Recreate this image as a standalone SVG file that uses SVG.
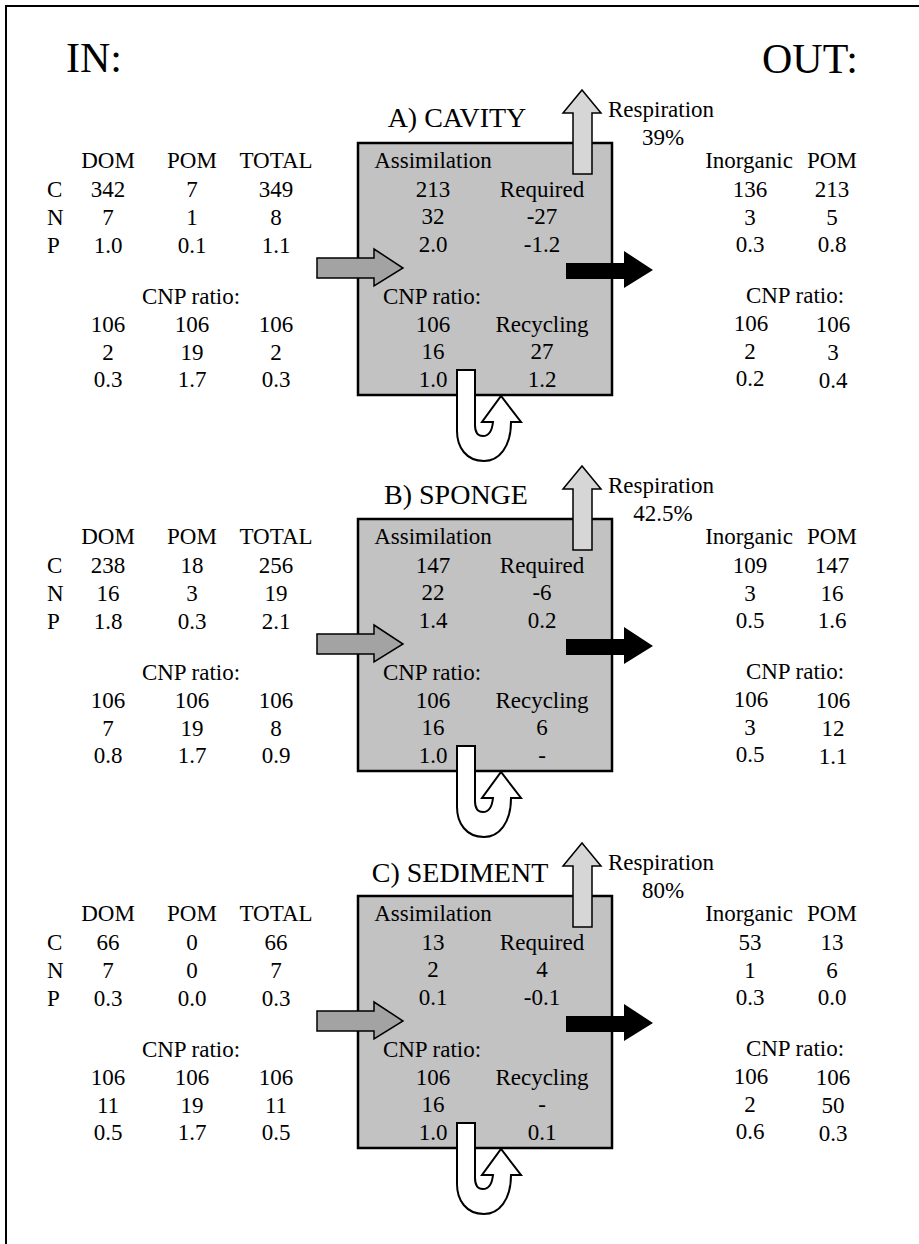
<svg xmlns="http://www.w3.org/2000/svg" width="919" height="1244" viewBox="0 0 919 1244">
<style>
text{font-family:"Liberation Serif","Times New Roman",serif;font-size:23px;fill:#000}
.m{text-anchor:middle}
.title{font-size:28px}
.big{font-size:42px}
.box{fill:#c2c2c2;stroke:#000;stroke-width:2.5}
.resp{fill:#d6d6d6;stroke:#000;stroke-width:1.5}
.inar{fill:#a3a3a3;stroke:#000;stroke-width:1.5}
.outar{fill:#000}
.rec{fill:#fff;stroke:#000;stroke-width:2}
.frame{fill:none;stroke:#000;stroke-width:2}
</style>
<defs>
<g id="boxshape"><rect class="box" x="358" y="143" width="254" height="252"/></g>
<path id="resparrow" class="resp" d="M573 174 V113 H563 L582 90 L601 113 H592 V174 Z"/>
<path id="inarrow" class="inar" d="M317 258 H374 V249 L403 268 L374 286 V278 H317 Z"/>
<path id="outarrow" class="outar" d="M566 263 H624 V251 L653 270 L624 288 V279 H566 Z"/>
<path id="recarrow" class="rec" d="M457 370 H475 V425 C475 433 478 436 483 436 C489 436 492 431 493 422 H482 L501 396 L521 422 H511 C511 447 499 461 484 461 C466 461 457 447 457 431 Z"/>
</defs>
<path class="frame" d="M6 1244 V6 H919"/>
<text class="big" x="66" y="72">IN:</text>
<text class="big" x="762" y="73">OUT:</text>

<!-- Section A -->
<g id="section-a">
<g id="box-a"><use href="#boxshape"/>
<text class="m" x="433" y="168">Assimilation</text>
<text class="m" x="433" y="197">213</text><text class="m" x="542" y="197">Required</text>
<text class="m" x="433" y="224">32</text><text class="m" x="542" y="224">-27</text>
<text class="m" x="433" y="252">2.0</text><text class="m" x="542" y="252">-1.2</text>
<text class="m" x="432" y="304">CNP ratio:</text>
<text class="m" x="433" y="332">106</text><text class="m" x="542" y="332">Recycling</text>
<text class="m" x="433" y="359">16</text><text class="m" x="542" y="359">27</text>
<text class="m" x="433" y="387">1.0</text><text class="m" x="542" y="387">1.2</text>
</g>
<g id="title-a"><text class="m title" x="457" y="127">A) CAVITY</text></g>
<g id="resp-a"><text x="608" y="117">Respiration</text><text class="m" x="663" y="145">39%</text></g>
<g id="in-a">
<text class="m" x="108" y="168">DOM</text><text class="m" x="192" y="168">POM</text><text class="m" x="276" y="168">TOTAL</text>
<text x="47" y="197">C</text><text class="m" x="108" y="197">342</text><text class="m" x="192" y="197">7</text><text class="m" x="276" y="197">349</text>
<text x="47" y="225">N</text><text class="m" x="108" y="225">7</text><text class="m" x="192" y="225">1</text><text class="m" x="276" y="225">8</text>
<text x="47" y="253">P</text><text class="m" x="108" y="253">1.0</text><text class="m" x="192" y="253">0.1</text><text class="m" x="276" y="253">1.1</text>
<text class="m" x="191" y="304">CNP ratio:</text>
<text class="m" x="108" y="332">106</text><text class="m" x="192" y="332">106</text><text class="m" x="276" y="332">106</text>
<text class="m" x="108" y="360">2</text><text class="m" x="192" y="360">19</text><text class="m" x="276" y="360">2</text>
<text class="m" x="108" y="387">0.3</text><text class="m" x="192" y="387">1.7</text><text class="m" x="276" y="387">0.3</text>
</g>
<g id="out-a">
<text class="m" x="749" y="168">Inorganic</text><text class="m" x="832" y="168">POM</text>
<text class="m" x="750" y="197">136</text><text class="m" x="832" y="197">213</text>
<text class="m" x="750" y="225">3</text><text class="m" x="832" y="225">5</text>
<text class="m" x="750" y="252">0.3</text><text class="m" x="832" y="252">0.8</text>
<text class="m" x="795" y="303">CNP ratio:</text>
<text class="m" x="751" y="331">106</text><text class="m" x="833" y="332">106</text>
<text class="m" x="750" y="359">2</text><text class="m" x="833" y="360">3</text>
<text class="m" x="750" y="386">0.2</text><text class="m" x="833" y="388">0.4</text>
</g>
</g>

<!-- Section B -->
<g id="section-b" transform="translate(0,376)">
<g id="box-b"><use href="#boxshape"/>
<text class="m" x="433" y="168">Assimilation</text>
<text class="m" x="433" y="197">147</text><text class="m" x="542" y="197">Required</text>
<text class="m" x="433" y="224">22</text><text class="m" x="542" y="224">-6</text>
<text class="m" x="433" y="252">1.4</text><text class="m" x="542" y="252">0.2</text>
<text class="m" x="432" y="304">CNP ratio:</text>
<text class="m" x="433" y="332">106</text><text class="m" x="542" y="332">Recycling</text>
<text class="m" x="433" y="359">16</text><text class="m" x="542" y="359">6</text>
<text class="m" x="433" y="387">1.0</text><text class="m" x="542" y="387">-</text>
</g>
<g id="title-b"><text class="m title" x="456" y="128">B) SPONGE</text></g>
<g id="resp-b"><text x="608" y="117">Respiration</text><text class="m" x="663" y="145">42.5%</text></g>
<g id="in-b">
<text class="m" x="108" y="168">DOM</text><text class="m" x="192" y="168">POM</text><text class="m" x="276" y="168">TOTAL</text>
<text x="47" y="197">C</text><text class="m" x="108" y="197">238</text><text class="m" x="192" y="197">18</text><text class="m" x="276" y="197">256</text>
<text x="47" y="225">N</text><text class="m" x="108" y="225">16</text><text class="m" x="192" y="225">3</text><text class="m" x="276" y="225">19</text>
<text x="47" y="253">P</text><text class="m" x="108" y="253">1.8</text><text class="m" x="192" y="253">0.3</text><text class="m" x="276" y="253">2.1</text>
<text class="m" x="191" y="304">CNP ratio:</text>
<text class="m" x="108" y="332">106</text><text class="m" x="192" y="332">106</text><text class="m" x="276" y="332">106</text>
<text class="m" x="108" y="360">7</text><text class="m" x="192" y="360">19</text><text class="m" x="276" y="360">8</text>
<text class="m" x="108" y="387">0.8</text><text class="m" x="192" y="387">1.7</text><text class="m" x="276" y="387">0.9</text>
</g>
<g id="out-b">
<text class="m" x="749" y="168">Inorganic</text><text class="m" x="832" y="168">POM</text>
<text class="m" x="750" y="197">109</text><text class="m" x="832" y="197">147</text>
<text class="m" x="750" y="225">3</text><text class="m" x="832" y="225">16</text>
<text class="m" x="750" y="252">0.5</text><text class="m" x="832" y="252">1.6</text>
<text class="m" x="795" y="303">CNP ratio:</text>
<text class="m" x="751" y="331">106</text><text class="m" x="833" y="332">106</text>
<text class="m" x="750" y="359">3</text><text class="m" x="833" y="360">12</text>
<text class="m" x="750" y="386">0.5</text><text class="m" x="833" y="388">1.1</text>
</g>
</g>

<!-- Section C -->
<g id="section-c" transform="translate(0,753)">
<g id="box-c"><use href="#boxshape"/>
<text class="m" x="433" y="168">Assimilation</text>
<text class="m" x="433" y="197">13</text><text class="m" x="542" y="197">Required</text>
<text class="m" x="433" y="224">2</text><text class="m" x="542" y="224">4</text>
<text class="m" x="433" y="252">0.1</text><text class="m" x="542" y="252">-0.1</text>
<text class="m" x="432" y="304">CNP ratio:</text>
<text class="m" x="433" y="332">106</text><text class="m" x="542" y="332">Recycling</text>
<text class="m" x="433" y="359">16</text><text class="m" x="542" y="359">-</text>
<text class="m" x="433" y="387">1.0</text><text class="m" x="542" y="387">0.1</text>
</g>
<g id="title-c"><text class="m title" x="460" y="129">C) SEDIMENT</text></g>
<g id="resp-c"><text x="608" y="117">Respiration</text><text class="m" x="663" y="145">80%</text></g>
<g id="in-c">
<text class="m" x="108" y="168">DOM</text><text class="m" x="192" y="168">POM</text><text class="m" x="276" y="168">TOTAL</text>
<text x="47" y="197">C</text><text class="m" x="108" y="197">66</text><text class="m" x="192" y="197">0</text><text class="m" x="276" y="197">66</text>
<text x="47" y="225">N</text><text class="m" x="108" y="225">7</text><text class="m" x="192" y="225">0</text><text class="m" x="276" y="225">7</text>
<text x="47" y="253">P</text><text class="m" x="108" y="253">0.3</text><text class="m" x="192" y="253">0.0</text><text class="m" x="276" y="253">0.3</text>
<text class="m" x="191" y="304">CNP ratio:</text>
<text class="m" x="108" y="332">106</text><text class="m" x="192" y="332">106</text><text class="m" x="276" y="332">106</text>
<text class="m" x="108" y="360">11</text><text class="m" x="192" y="360">19</text><text class="m" x="276" y="360">11</text>
<text class="m" x="108" y="387">0.5</text><text class="m" x="192" y="387">1.7</text><text class="m" x="276" y="387">0.5</text>
</g>
<g id="out-c">
<text class="m" x="749" y="168">Inorganic</text><text class="m" x="832" y="168">POM</text>
<text class="m" x="750" y="197">53</text><text class="m" x="832" y="197">13</text>
<text class="m" x="750" y="225">1</text><text class="m" x="832" y="225">6</text>
<text class="m" x="750" y="252">0.3</text><text class="m" x="832" y="252">0.0</text>
<text class="m" x="795" y="303">CNP ratio:</text>
<text class="m" x="751" y="331">106</text><text class="m" x="833" y="332">106</text>
<text class="m" x="750" y="359">2</text><text class="m" x="833" y="360">50</text>
<text class="m" x="750" y="386">0.6</text><text class="m" x="833" y="388">0.3</text>
</g>
</g>

<!-- Connectors -->
<g id="connectors">
<g id="arrows-a"><use href="#resparrow"/><use href="#inarrow"/><use href="#outarrow"/><use href="#recarrow"/></g>
<g id="arrows-b" transform="translate(0,376)"><use href="#resparrow"/><use href="#inarrow"/><use href="#outarrow"/><use href="#recarrow"/></g>
<g id="arrows-c" transform="translate(0,753)"><use href="#resparrow"/><use href="#inarrow"/><use href="#outarrow"/><use href="#recarrow"/></g>
</g>
</svg>
